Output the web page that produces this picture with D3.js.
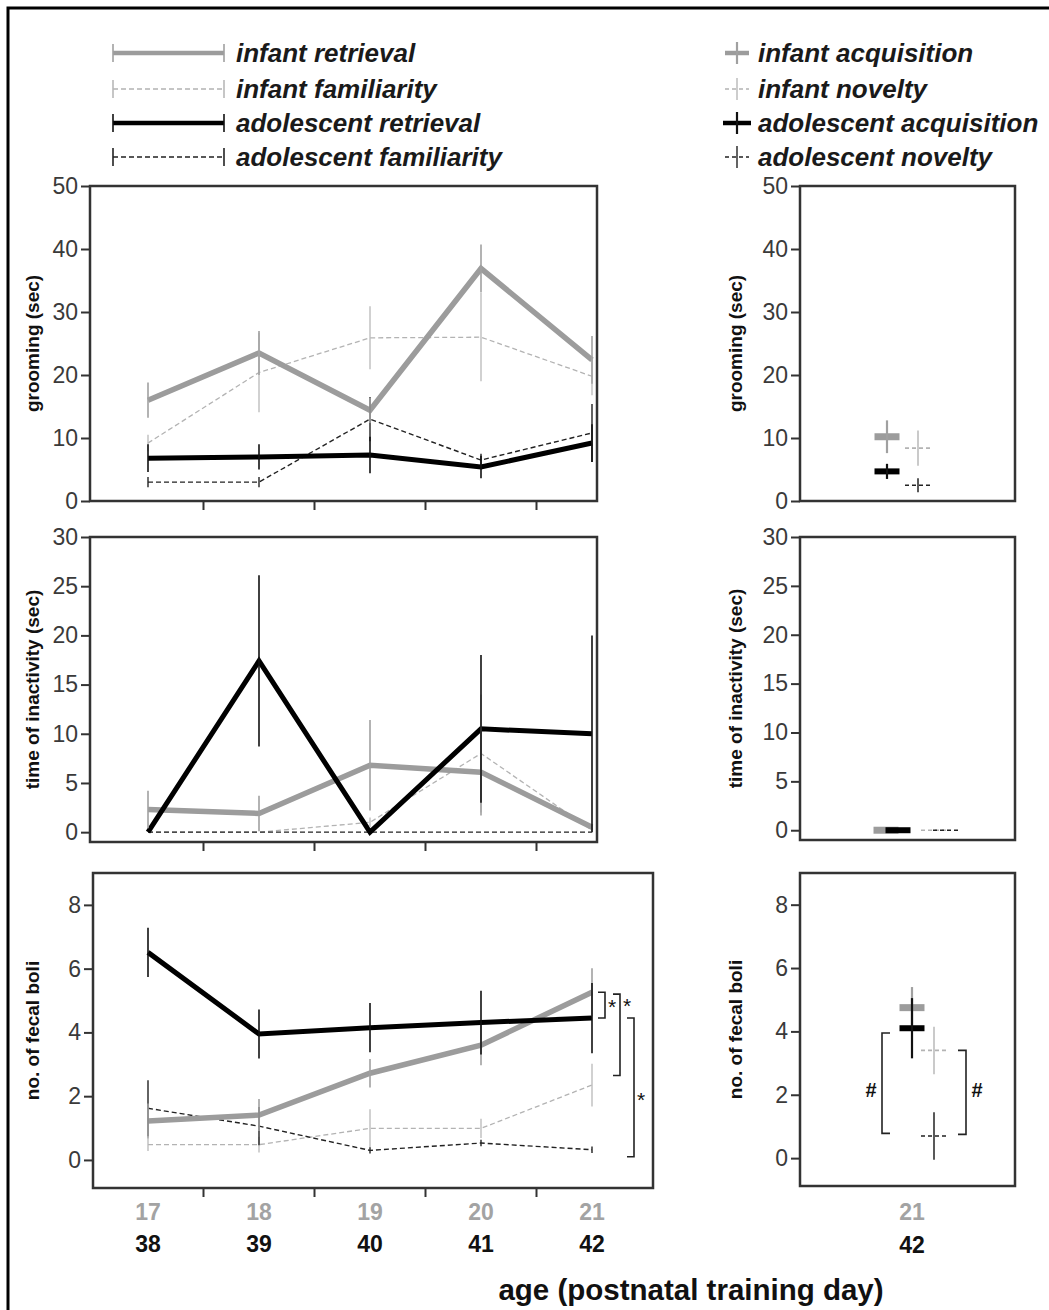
<!DOCTYPE html>
<html>
<head>
<meta charset="utf-8">
<script src="https://cdn.jsdelivr.net/npm/d3@7"></script>
<style>
  body { margin: 0; background: #fff; }
  svg { display: block; font-family: "Liberation Sans", Arial, sans-serif; }
</style>
</head>
<body>
<svg id="chart"></svg>
<script>
// chart size
const width = 1049;
const height = 1310;

// categories
const infantDays = ["17", "18", "19", "20", "21"];
const adolescentDays = ["38", "39", "40", "41", "42"];
const testGroups = ["acquisition", "novelty"];

// grooming (sec), training days
const groomInfRet = [16.0, 23.5, 14.4, 36.9, 22.4];
const groomInfRetErr = [2.8, 3.5, 2.0, 3.8, 3.8];
const groomInfFam = [9.2, 20.4, 25.9, 26.0, 19.8];
const groomInfFamErr = [1.3, 6.3, 5.0, 7.0, 3.0];
const groomAdoRet = [6.8, 7.0, 7.3, 5.4, 9.2];
const groomAdoRetErr = [2.2, 2.0, 2.9, 1.8, 3.0];
const groomAdoFam = [3.0, 3.0, 13.0, 6.5, 10.8];
const groomAdoFamErr = [0.8, 0.8, 3.5, 1.0, 4.6];

// inactivity (sec), training days
const inactInfRet = [2.3, 1.9, 6.8, 6.1, 0.5];
const inactInfRetErr = [1.9, 1.8, 4.6, 4.4, 0.3];
const inactInfFam = [0, 0, 1.0, 8.0, 0.2];
const inactInfFamErr = [0, 0, 0.5, 6.0, 0.2];
const inactAdoRet = [0, 17.4, 0, 10.5, 10.0];
const inactAdoRetErr = [0, 8.7, 0, 7.5, 10.0];
const inactAdoFam = [0, 0, 0, 0, 0];
const inactAdoFamErr = [0, 0, 0, 0, 0];

// fecal boli, training days
const fecalInfRet = [1.22, 1.41, 2.72, 3.6, 5.26];
const fecalInfRetErr = [0.55, 0.5, 0.45, 0.63, 0.75];
const fecalInfFam = [0.48, 0.48, 0.99, 0.99, 2.35];
const fecalInfFamErr = [0.2, 0.25, 0.6, 0.3, 0.67];
const fecalAdoRet = [6.51, 3.95, 4.15, 4.31, 4.45];
const fecalAdoRetErr = [0.77, 0.77, 0.77, 1.0, 1.1];
const fecalAdoFam = [1.62, 1.06, 0.3, 0.53, 0.32];
const fecalAdoFamErr = [0.88, 0.6, 0.1, 0.1, 0.1];

// test day (21 / 42): [infant, adolescent] per test group
const groomAcq = [10.2, 4.7];
const groomAcqErr = [2.6, 1.2];
const groomNov = [8.4, 2.5];
const groomNovErr = [2.8, 1.1];
const inactAcq = [0, 0];
const inactAcqErr = [0, 0];
const inactNov = [0, 0];
const inactNovErr = [0, 0];
const fecalAcq = [4.75, 4.1];
const fecalAcqErr = [0.65, 0.95];
const fecalNov = [3.4, 0.7];
const fecalNovErr = [0.75, 0.75];

// significance brackets
const fecalStars = [
  { top: 5.26, bottom: 4.45, label: 4.9, text: "*" },
  { top: 5.2, bottom: 2.65, label: 4.93, text: "*" },
  { top: 4.45, bottom: 0.1, label: 1.96, text: "*" }
];
const fecalHashes = [
  { top: 3.95, bottom: 0.78, label: 2.15, text: "#" },
  { top: 3.4, bottom: 0.75, label: 2.15, text: "#" }
];

// legend labels
const lineLegend = ["infant retrieval", "infant familiarity", "adolescent retrieval", "adolescent familiarity"];
const crossLegend = ["infant acquisition", "infant novelty", "adolescent acquisition", "adolescent novelty"];

// styles for 4 series: infant ret, infant fam, adolescent ret, adolescent fam
const styles = [
  { color: "#9c9c9c", w: 5.5, dash: null, errColor: "#a0a0a0", errW: 1.6 },
  { color: "#b3b3b3", w: 1.3, dash: "5,3", errColor: "#b8b8b8", errW: 1.3 },
  { color: "#000000", w: 5, dash: null, errColor: "#111111", errW: 1.6 },
  { color: "#222222", w: 1.4, dash: "5,3", errColor: "#222222", errW: 1.4 }
];

const svg = d3.select("#chart").attr("width", width).attr("height", height);

// outer frame
svg.append("rect")
  .attr("x", 8).attr("y", 8)
  .attr("width", width + 20).attr("height", height + 20)
  .attr("fill", "none").attr("stroke", "#000").attr("stroke-width", 3);

// shared x scale for training days
const x = d3.scaleBand().domain(infantDays).range([92.5, 647.5]);
const cx = d => x(d) + x.bandwidth() / 2;

const leftPanels = [
  {
    title: "grooming (sec)", domain: [0, 50], range: [501, 186], ticks: [0, 10, 20, 30, 40, 50],
    left: 90, right: 597,
    data: [[groomInfRet, groomInfRetErr], [groomInfFam, groomInfFamErr], [groomAdoRet, groomAdoRetErr], [groomAdoFam, groomAdoFamErr]]
  },
  {
    title: "time of inactivity (sec)", domain: [-1, 30], range: [842, 537], ticks: [0, 5, 10, 15, 20, 25, 30],
    left: 90, right: 597,
    data: [[inactInfRet, inactInfRetErr], [inactInfFam, inactInfFamErr], [inactAdoRet, inactAdoRetErr], [inactAdoFam, inactAdoFamErr]]
  },
  {
    title: "no. of fecal boli", domain: [-0.88, 9], range: [1188, 873], ticks: [0, 2, 4, 6, 8],
    left: 93, right: 653,
    data: [[fecalInfRet, fecalInfRetErr], [fecalInfFam, fecalInfFamErr], [fecalAdoRet, fecalAdoRetErr], [fecalAdoFam, fecalAdoFamErr]]
  }
];

const rightPanels = [
  { domain: [0, 50], range: [501, 186], ticks: [0, 10, 20, 30, 40, 50], title: "grooming (sec)",
    xr: [887, 918], dodge: 0,
    data: [[groomAcq, groomAcqErr], [groomNov, groomNovErr]] },
  { domain: [-1, 30], range: [840, 537], ticks: [0, 5, 10, 15, 20, 25, 30], title: "time of inactivity (sec)",
    xr: [892, 940], dodge: 6,
    data: [[inactAcq, inactAcqErr], [inactNov, inactNovErr]] },
  { domain: [-0.88, 9], range: [1186, 873], ticks: [0, 2, 4, 6, 8], title: "no. of fecal boli",
    xr: [912, 934], dodge: 0,
    data: [[fecalAcq, fecalAcqErr], [fecalNov, fecalNovErr]] }
];
const rightLeft = 800, rightRight = 1015;

function drawYAxis(g, y, ticks, left) {
  const ax = g.append("g")
    .attr("transform", `translate(${left},0)`)
    .call(d3.axisLeft(y).tickValues(ticks).tickSize(9).tickPadding(3).tickFormat(d3.format("d")));
  ax.select(".domain").remove();
  ax.selectAll(".tick line").attr("stroke", "#333").attr("stroke-width", 2);
  ax.selectAll(".tick text").attr("fill", "#3a3a3a").style("font-size", "23px");
}

function yTitle(g, text, xPos, y) {
  const mid = (y.range()[0] + y.range()[1]) / 2;
  g.append("text")
    .attr("transform", `translate(${xPos},${mid}) rotate(-90)`)
    .attr("text-anchor", "middle")
    .attr("dominant-baseline", "middle")
    .attr("font-weight", "bold")
    .attr("font-size", 19)
    .attr("fill", "#111")
    .text(text);
}

// left panels
leftPanels.forEach(p => {
  const g = svg.append("g");
  const y = d3.scaleLinear().domain(p.domain).range(p.range);

  g.append("rect")
    .attr("x", p.left).attr("y", p.range[1])
    .attr("width", p.right - p.left).attr("height", p.range[0] - p.range[1])
    .attr("fill", "none").attr("stroke", "#333").attr("stroke-width", 2.5);

  drawYAxis(g, y, p.ticks, p.left);
  yTitle(g, p.title, 34, y);

  // ticks between days
  infantDays.slice(1).forEach(d => {
    g.append("line")
      .attr("x1", x(d)).attr("x2", x(d))
      .attr("y1", p.range[0]).attr("y2", p.range[0] + 9)
      .attr("stroke", "#333").attr("stroke-width", 2);
  });

  const line = d3.line().x((v, i) => cx(infantDays[i])).y(v => y(v));

  // order: familiarity first, retrieval on top
  [1, 3, 0, 2].forEach(s => {
    const [vals, errs] = p.data[s];
    const st = styles[s];
    g.append("path")
      .attr("d", line(vals))
      .attr("fill", "none")
      .attr("stroke", st.color)
      .attr("stroke-width", st.w)
      .attr("stroke-dasharray", st.dash)
      .attr("stroke-linejoin", "miter");
  });
  [1, 3, 0, 2].forEach(s => {
    const [vals, errs] = p.data[s];
    const st = styles[s];
    vals.forEach((v, i) => {
      if (errs[i] <= 0) return;
      g.append("line")
        .attr("x1", cx(infantDays[i])).attr("x2", cx(infantDays[i]))
        .attr("y1", y(v - errs[i])).attr("y2", y(v + errs[i]))
        .attr("stroke", st.errColor).attr("stroke-width", st.errW);
    });
  });

  if (p.title === "no. of fecal boli") {
    const offs = [6, 21, 35];
    fecalStars.forEach((b, i) => {
      const x0 = cx("21") + offs[i];
      g.append("path")
        .attr("d", `M${x0},${y(b.top)}H${x0 + 7}V${y(b.bottom)}H${x0}`)
        .attr("fill", "none").attr("stroke", "#222").attr("stroke-width", 1.6);
      g.append("text")
        .attr("x", x0 + 14).attr("y", y(b.label) + 10)
        .attr("text-anchor", "middle")
        .attr("font-size", 21).attr("fill", "#111")
        .text(b.text);
    });
  }
});

// x labels
infantDays.forEach((d, i) => {
  svg.append("text")
    .attr("x", cx(d)).attr("y", 1220)
    .attr("text-anchor", "middle")
    .attr("font-size", 23).attr("font-weight", "bold").attr("fill", "#a3a3a3")
    .text(d);
  svg.append("text")
    .attr("x", cx(d)).attr("y", 1252)
    .attr("text-anchor", "middle")
    .attr("font-size", 23).attr("font-weight", "bold").attr("fill", "#111")
    .text(adolescentDays[i]);
});

// right panels (test day)
rightPanels.forEach((p, pi) => {
  const g = svg.append("g");
  const y = d3.scaleLinear().domain(p.domain).range(p.range);
  const xr = d3.scalePoint().domain(testGroups).range(p.xr);

  g.append("rect")
    .attr("x", rightLeft).attr("y", p.range[1])
    .attr("width", rightRight - rightLeft).attr("height", p.range[0] - p.range[1])
    .attr("fill", "none").attr("stroke", "#333").attr("stroke-width", 2.5);

  drawYAxis(g, y, p.ticks, rightLeft);
  yTitle(g, p.title, 737, y);

  // acquisition -> solid style, novelty -> dashed style
  testGroups.forEach((grp, gi) => {
    const [vals, errs] = p.data[gi];
    vals.forEach((v, ai) => {
      const st = styles[ai * 2 + gi];
      const xc = xr(grp) + (ai === 0 ? -p.dodge : p.dodge);
      const half = gi === 0 ? 12.5 : 13;
      g.append("line")
        .attr("x1", xc - half).attr("x2", xc + half)
        .attr("y1", y(v)).attr("y2", y(v))
        .attr("stroke", st.color)
        .attr("stroke-width", gi === 0 ? (ai === 0 ? 7 : 6) : 1.6)
        .attr("stroke-dasharray", gi === 0 ? null : "4,3");
      if (errs[ai] > 0) {
        g.append("line")
          .attr("x1", xc).attr("x2", xc)
          .attr("y1", y(v - errs[ai])).attr("y2", y(v + errs[ai]))
          .attr("stroke", st.errColor).attr("stroke-width", gi === 0 ? 2.2 : 1.5);
      }
    });
  });

  if (pi === 2) {
    fecalHashes.forEach((b, i) => {
      const dir = i === 0 ? 1 : -1;
      const xb = i === 0 ? xr("acquisition") - 30 : xr("novelty") + 32;
      g.append("path")
        .attr("d", `M${xb + dir * 8},${y(b.top)}H${xb}V${y(b.bottom)}H${xb + dir * 8}`)
        .attr("fill", "none").attr("stroke", "#222").attr("stroke-width", 1.6);
      g.append("text")
        .attr("x", xb - dir * 11).attr("y", y(b.label) + 7)
        .attr("text-anchor", "middle")
        .attr("font-size", 20).attr("font-weight", "bold").attr("fill", "#111")
        .text(b.text);
    });

    svg.append("text")
      .attr("x", xr("acquisition")).attr("y", 1220)
      .attr("text-anchor", "middle")
      .attr("font-size", 23).attr("font-weight", "bold").attr("fill", "#a3a3a3")
      .text(infantDays[4]);
    svg.append("text")
      .attr("x", xr("acquisition")).attr("y", 1253)
      .attr("text-anchor", "middle")
      .attr("font-size", 23).attr("font-weight", "bold").attr("fill", "#111")
      .text(adolescentDays[4]);
  }
});

// x title
svg.append("text")
  .attr("x", 691).attr("y", 1300)
  .attr("text-anchor", "middle")
  .attr("font-size", 29.5).attr("font-weight", "bold").attr("fill", "#111")
  .text("age (postnatal training day)");

// legend
const legendRows = [53, 89, 123, 157];
lineLegend.forEach((label, i) => {
  const st = styles[i];
  const ly = legendRows[i];
  const lg = svg.append("g");
  lg.append("line")
    .attr("x1", 113).attr("x2", 224).attr("y1", ly).attr("y2", ly)
    .attr("stroke", st.color).attr("stroke-width", st.dash ? 1.4 : 4.5)
    .attr("stroke-dasharray", st.dash);
  [113, 224].forEach(ex => {
    lg.append("line")
      .attr("x1", ex).attr("x2", ex).attr("y1", ly - 9).attr("y2", ly + 9)
      .attr("stroke", st.errColor).attr("stroke-width", 1.6);
  });
  lg.append("text")
    .attr("x", 236).attr("y", ly + 9)
    .attr("font-size", 26).attr("font-weight", "bold").attr("font-style", "italic")
    .attr("fill", "#1a1a1a")
    .text(label);
});

crossLegend.forEach((label, i) => {
  const st = styles[i];
  const ly = legendRows[i];
  const solid = i % 2 === 0;
  const lg = svg.append("g");
  const hw = i === 2 ? 14 : 12;
  lg.append("line")
    .attr("x1", 737 - hw).attr("x2", 737 + hw).attr("y1", ly).attr("y2", ly)
    .attr("stroke", st.color).attr("stroke-width", solid ? 4.5 : 1.4)
    .attr("stroke-dasharray", solid ? null : "4,3");
  lg.append("line")
    .attr("x1", 737).attr("x2", 737).attr("y1", ly - 11).attr("y2", ly + 11)
    .attr("stroke", st.errColor).attr("stroke-width", solid ? 2.2 : 1.4);
  lg.append("text")
    .attr("x", 758).attr("y", ly + 9)
    .attr("font-size", 26).attr("font-weight", "bold").attr("font-style", "italic")
    .attr("fill", "#1a1a1a")
    .text(label);
});
</script>
</body>
</html>
